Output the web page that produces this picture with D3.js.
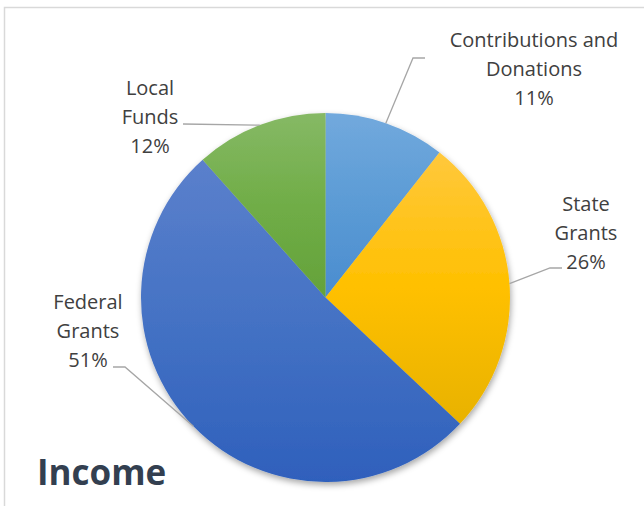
<!DOCTYPE html>
<html>
<head>
<meta charset="utf-8">
<script src="https://cdn.jsdelivr.net/npm/d3@7"></script>
<style>
  body { margin: 0; background: #fff; }
  svg { display: block; }
</style>
</head>
<body>
<div id="chart"></div>
<script>
// slice data, clockwise from 12 o'clock
var categories = ["Contributions and Donations", "State Grants", "Federal Grants", "Local Funds"];
var values = [10.6, 26.4, 51.4, 11.6];
var labelLines = [["Contributions and", "Donations"], ["State", "Grants"], ["Federal", "Grants"], ["Local", "Funds"]];

var width = 644;
var height = 506;
var cx = 325.5, cy = 297.5, radius = 184.5;

// label placement: text centre, first baseline, leader elbow and end
var labelLayout = [
    { x: 534, y: 47, elbow: [413, 58], end: [425, 58] },
    { x: 586, y: 211, elbow: [550, 268], end: [562, 268] },
    { x: 88, y: 309, elbow: [125, 367], end: [113, 367] },
    { x: 150, y: 95, elbow: null, end: [183, 124] }
];

var fills = [
    ["#72a9dd", "#5b9bd5", "#4a8ccf"],
    ["#ffc83c", "#ffc000", "#e8b200"],
    ["#5b80cc", "#4472c4", "#2f60bc"],
    ["#86b965", "#70ad47", "#64a23a"]
];

var svg = d3.select("#chart").append("svg").attr("width", width).attr("height", height);

var defs = svg.append("defs");

var shadow = defs.append("filter").attr("id", "shadow")
    .attr("x", "-10%").attr("y", "-10%").attr("width", "120%").attr("height", "120%");
shadow.append("feDropShadow")
    .attr("dx", 1).attr("dy", 3).attr("stdDeviation", 3)
    .attr("flood-color", "#000").attr("flood-opacity", 0.35);

fills.forEach(function (f, i) {
    var grad = defs.append("linearGradient").attr("id", "grad" + i)
        .attr("x1", 0).attr("y1", 0).attr("x2", 0).attr("y2", 1);
    grad.append("stop").attr("offset", "0%").attr("stop-color", f[0]);
    grad.append("stop").attr("offset", "50%").attr("stop-color", f[1]);
    grad.append("stop").attr("offset", "100%").attr("stop-color", f[2]);
});

// chart frame
svg.append("rect")
    .attr("x", 4.5).attr("y", 7.5)
    .attr("width", 800).attr("height", 700)
    .attr("fill", "none")
    .attr("stroke", "#d9d9d9")
    .attr("stroke-width", 1.5);

var pie = d3.pie().sort(null).value(function (d) { return d; });
var arcs = pie(values);
var total = d3.sum(values);

var arc = d3.arc().innerRadius(0).outerRadius(radius);
var edgeArc = d3.arc().innerRadius(radius).outerRadius(radius);

var g = svg.append("g").attr("transform", `translate(${cx}, ${cy})`);

g.append("g")
    .attr("filter", "url(#shadow)")
    .selectAll("path")
    .data(arcs)
    .enter()
    .append("path")
    .attr("d", arc)
    .attr("fill", function (d, i) { return "url(#grad" + i + ")"; });

// leader lines
svg.selectAll(".leader")
    .data(arcs)
    .enter()
    .append("polyline")
    .attr("class", "leader")
    .attr("points", function (d, i) {
        var p = edgeArc.centroid(d);
        var pts = [[p[0] + cx, p[1] + cy]];
        var lay = labelLayout[i];
        if (lay.elbow) pts.push(lay.elbow);
        pts.push(lay.end);
        return pts.map(function (q) { return q.join(","); }).join(" ");
    })
    .attr("fill", "none")
    .attr("stroke", "#a6a6a6")
    .attr("stroke-width", 1.3);

// labels
var labels = svg.selectAll(".label")
    .data(arcs)
    .enter()
    .append("text")
    .attr("class", "label")
    .attr("text-anchor", "middle")
    .style("font-family", "'Open Sans', sans-serif")
    .style("font-size", "20px")
    .attr("fill", "#404040");

labels.each(function (d, i) {
    var t = d3.select(this);
    var lay = labelLayout[i];
    var lines = labelLines[i].concat([Math.round(d.data / total * 100) + "%"]);
    lines.forEach(function (line, j) {
        t.append("tspan")
            .attr("x", lay.x)
            .attr("y", lay.y + j * 29)
            .text(line);
    });
});

svg.append("text")
    .attr("x", 37)
    .attr("y", 485)
    .style("font-family", "'Open Sans', sans-serif")
    .style("font-size", "35px")
    .style("font-weight", "bold")
    .attr("fill", "#333f50")
    .text("Income");
</script>
</body>
</html>
